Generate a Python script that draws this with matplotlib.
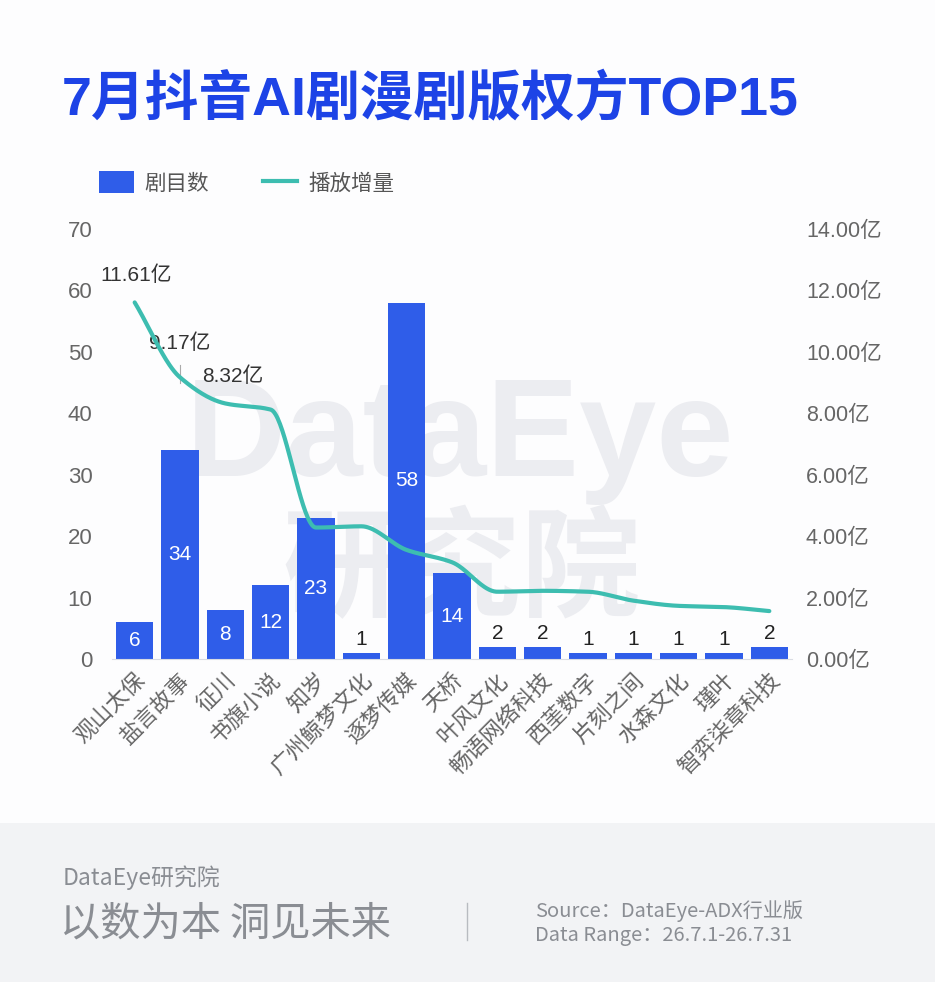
import matplotlib
matplotlib.use('Agg')
import matplotlib.pyplot as plt
import numpy as np

companies = ['观山太保', '盐言故事', '征川', '书旗小说', '知岁', '广州鲸梦文化', '逐梦传媒', '天桥',
             '叶风文化', '畅语网络科技', '西茥数字', '片刻之间', '水森文化', '瑾叶', '智弈柒章科技']
shows = [6, 34, 8, 12, 23, 1, 58, 14, 2, 2, 1, 1, 1, 1, 2]
plays = [11.61, 9.17, 8.32, 8.12, 4.28, 4.32, 3.55, 3.15, 2.19, 2.22, 2.19, 1.90, 1.73, 1.69, 1.56]
shown_play_labels = 3

BLUE = '#2f5de9'
TEAL = '#3dbdb0'
GRAY = '#666666'

plt.rcParams['font.family'] = ['Liberation Sans', 'Noto Sans CJK SC']


def smooth(y, n=40):
    # monotone cubic (Fritsch-Carlson) through the points
    y = np.asarray(y, float)
    d = np.diff(y)
    m = np.zeros_like(y)
    m[0], m[-1] = d[0], d[-1]
    for i in range(1, len(y) - 1):
        if d[i-1] * d[i] > 0:
            m[i] = 2 / (1 / d[i-1] + 1 / d[i])
    xs, ys = [], []
    for i in range(len(y) - 1):
        t = np.linspace(0, 1, n)
        h00 = 2*t**3 - 3*t**2 + 1
        h10 = t**3 - 2*t**2 + t
        h01 = -2*t**3 + 3*t**2
        h11 = t**3 - t**2
        xs.append(i + t)
        ys.append(h00*y[i] + h10*m[i] + h01*y[i+1] + h11*m[i+1])
    return np.concatenate(xs), np.concatenate(ys)


fig = plt.figure(figsize=(9.35, 9.82), dpi=100)
fig.patch.set_facecolor('#fdfdfe')

# footer band
fig.patches.append(plt.Rectangle((0, 0), 1, 159/982, transform=fig.transFigure,
                                 facecolor='#f2f3f5', edgecolor='none', zorder=-2))

fig.text(62/935, 1 - 100/982, '7月抖音AI剧漫剧版权方TOP15', color='#1d43e6',
         fontsize=38.7, fontweight='heavy', va='center', ha='left')

# watermark
fig.text(460/935, 1 - 440/982, 'DataEye', color='#ecedf1', fontsize=100,
         fontweight='bold', ha='center', va='center', zorder=-1)
fig.text(462/935, 1 - 575/982, '研究院', color='#ecedf1', fontsize=86,
         fontweight='bold', ha='center', va='center', zorder=-1)

ax = fig.add_axes([112/935, 1 - 659/982, 680/935, 430/982])
ax.patch.set_alpha(0)
ax2 = ax.twinx()

x = np.arange(len(companies))
ax.bar(x, shows, width=0.82, color=BLUE, zorder=2, label='剧目数')
for xi, v in zip(x, shows):
    if v >= 5:
        ax.text(xi, v / 2, str(v), color='white', fontsize=15, ha='center', va='center', zorder=3)
    else:
        ax.text(xi, v + 0.6, str(v), color='#222222', fontsize=15, ha='center', va='bottom', zorder=3)

sx, sy = smooth(plays)
ax2.plot(sx, sy, color=TEAL, lw=3, zorder=4, solid_capstyle='round')
ax2.plot([], [], color=TEAL, lw=3, label='播放增量')
offsets = [(2, 27), (0, 34), (7, 27)]
for i in range(shown_play_labels):
    dx, dy = offsets[i]
    ax2.annotate(f'{plays[i]:.2f}亿', (x[i], plays[i]), xytext=(dx, dy),
                 textcoords='offset pixels', ha='center', va='center',
                 fontsize=15, color='#333333')
# leader line of the moved label
ax2.plot([x[1], x[1]], [plays[1] - 0.2, plays[1] + 0.4], color='#aaaaaa', lw=0.8, zorder=3)

ax.set_xlim(-0.5, len(companies) - 0.5)
ax.set_ylim(0, 70)
ax2.set_ylim(0, 14)
ax.set_yticks(range(0, 71, 10))
ax2.set_yticks(range(0, 15, 2))
ax2.set_yticklabels([f'{v:.2f}亿' for v in range(0, 15, 2)])

ax.set_xticks(x)
ax.set_xticklabels(companies, rotation=45, ha='right', va='top', rotation_mode='anchor')

for a in (ax, ax2):
    for s in a.spines.values():
        s.set_visible(False)
    a.tick_params(length=0, labelsize=16, colors=GRAY)
ax.tick_params(axis='y', pad=14)
ax2.tick_params(axis='y', pad=10, labelsize=15.5)
ax.tick_params(axis='x', pad=8)
ax.spines['bottom'].set_visible(True)
ax.spines['bottom'].set_color('#d9dce3')

# legend
h1, l1 = ax.get_legend_handles_labels()
h2, l2 = ax2.get_legend_handles_labels()
fig.legend(h1 + h2, l1 + l2, loc='center left', bbox_to_anchor=(80/935, 1 - 183/982),
           ncol=2, frameon=False, fontsize=15.5, labelcolor='#555555',
           handlelength=1.6, handleheight=1.2, columnspacing=2.5, handletextpad=0.5)

# footer
fig.text(63/935, 1 - 878/982, 'DataEye研究院', color='#8a8d93', fontsize=16.5, va='center',
         family=['Noto Sans CJK SC'])
fig.text(60/935, 1 - 924/982, '以数为本 洞见未来', color='#8a8d93', fontsize=29, va='center',
         family=['Noto Sans CJK SC'])
fig.add_artist(plt.Line2D([467/935, 467/935], [1 - 903/982, 1 - 940/982],
                          color='#b8bbc0', lw=1, transform=fig.transFigure))
fig.text(535/935, 1 - 911/982, 'Source：DataEye-ADX行业版', color='#8a8d93', fontsize=14.5,
         va='center', family=['Noto Sans CJK SC'])
fig.text(535/935, 1 - 935/982, 'Data Range：26.7.1-26.7.31', color='#8a8d93', fontsize=14.5,
         va='center', family=['Noto Sans CJK SC'])

fig.savefig('out.png', dpi=100, facecolor=fig.get_facecolor())
